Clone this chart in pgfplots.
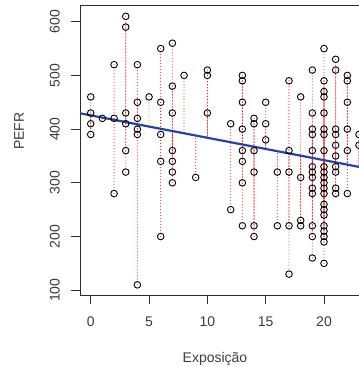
\documentclass[border=0pt]{standalone}
\usepackage{fontspec}
\setmainfont{Liberation Sans}
\usepackage{pgfplots}
\usepackage{pgfplotstable}
\pgfplotsset{compat=1.18}
\definecolor{txtgray}{RGB}{60,60,60}
\definecolor{axgray}{RGB}{45,45,45}
\definecolor{regblue}{RGB}{35,68,165}
\definecolor{resred}{RGB}{230,45,45}
\pgfplotstableread{
x y
0 460
0 430
0 410
0 390
1 420
2 520
2 420
2 280
3 610
3 590
3 430
3 410
3 360
3 320
4 520
4 450
4 420
4 400
4 390
4 110
5 460
6 550
6 450
6 390
6 340
6 200
7 560
7 480
7 430
7 360
7 340
7 320
7 300
8 500
9 310
10 510
10 500
10 430
12 410
12 250
13 500
13 490
13 450
13 400
13 360
13 340
13 300
13 220
14 420
14 410
14 360
14 320
14 220
14 200
15 450
15 410
15 380
16 320
16 220
17 490
17 360
17 320
17 220
17 130
18 460
18 310
18 230
18 220
19 510
19 430
19 400
19 390
19 360
19 330
19 320
19 310
19 290
19 280
19 220
19 200
19 160
20 550
20 490
20 470
20 460
20 430
20 400
20 390
20 360
20 330
20 320
20 310
20 300
20 290
20 280
20 260
20 250
20 240
20 220
20 210
20 200
20 190
20 150
21 530
21 510
21 400
21 390
21 370
21 350
21 330
21 320
21 290
21 280
22 500
22 490
22 450
22 400
22 360
22 280
23 390
23 370
}\pefr
\newcommand{\lblfont}{\fontsize{14bp}{16bp}\selectfont}
\begin{document}
\begin{tikzpicture}
\useasboundingbox (0,0) rectangle (359bp,-367bp);
\clip (0,0) rectangle (359bp,-367bp);
\fill[white] (0,0) rectangle (359bp,-367bp);
\begin{axis}[
  at={(80bp,-295bp)}, anchor=south west,
  scale only axis, width=290.66bp, height=290bp,
  xmin=-0.92, xmax=24, ymin=91.1, ymax=631.1,
  axis line style={axgray, line width=0.8pt},
  tick style={axgray, line width=0.8pt},
  tick align=outside, major tick length=9bp,
  tick pos=left,
  xtick={0,5,10,15,20}, ytick={100,200,300,400,500,600},
  /pgf/number format/assume math mode=true,
  ticklabel style={font=\lblfont, text=txtgray},
  xticklabel style={anchor=north, inner sep=0pt},
  yticklabel style={rotate=90, anchor=south, inner sep=0pt},
  x tick label style={yshift=-13bp},
  y tick label style={yshift=11bp},
  xlabel={Exposição}, ylabel={PEFR},
  label style={font=\lblfont, text=txtgray},
  x label style={at={(axis description cs:0.4644,-0.2217)}, anchor=base, inner sep=0pt, yshift=-3bp},
  y label style={at={(axis description cs:-0.1927,0.5655)}, anchor=base, inner sep=0pt},
]
\addplot[draw=none, mark=none,
  error bars/.cd, y dir=minus, y explicit,
  error mark=none,
  error bar style={draw=resred, solid, line width=1.1pt, line cap=round, dash pattern=on 0bp off 3bp}]
  table[x=x, y=y, y error expr=\thisrow{y}-(425.6-4.17*\thisrow{x})] {\pefr};
\addplot[regblue, line width=2.2pt] coordinates {(-1,429.77) (24,325.52)};
\addplot[only marks, mark=o, mark size=3.3bp, black, mark options={line width=0.9pt}] table[x=x, y=y] {\pefr};
\end{axis}
\end{tikzpicture}
\end{document}
